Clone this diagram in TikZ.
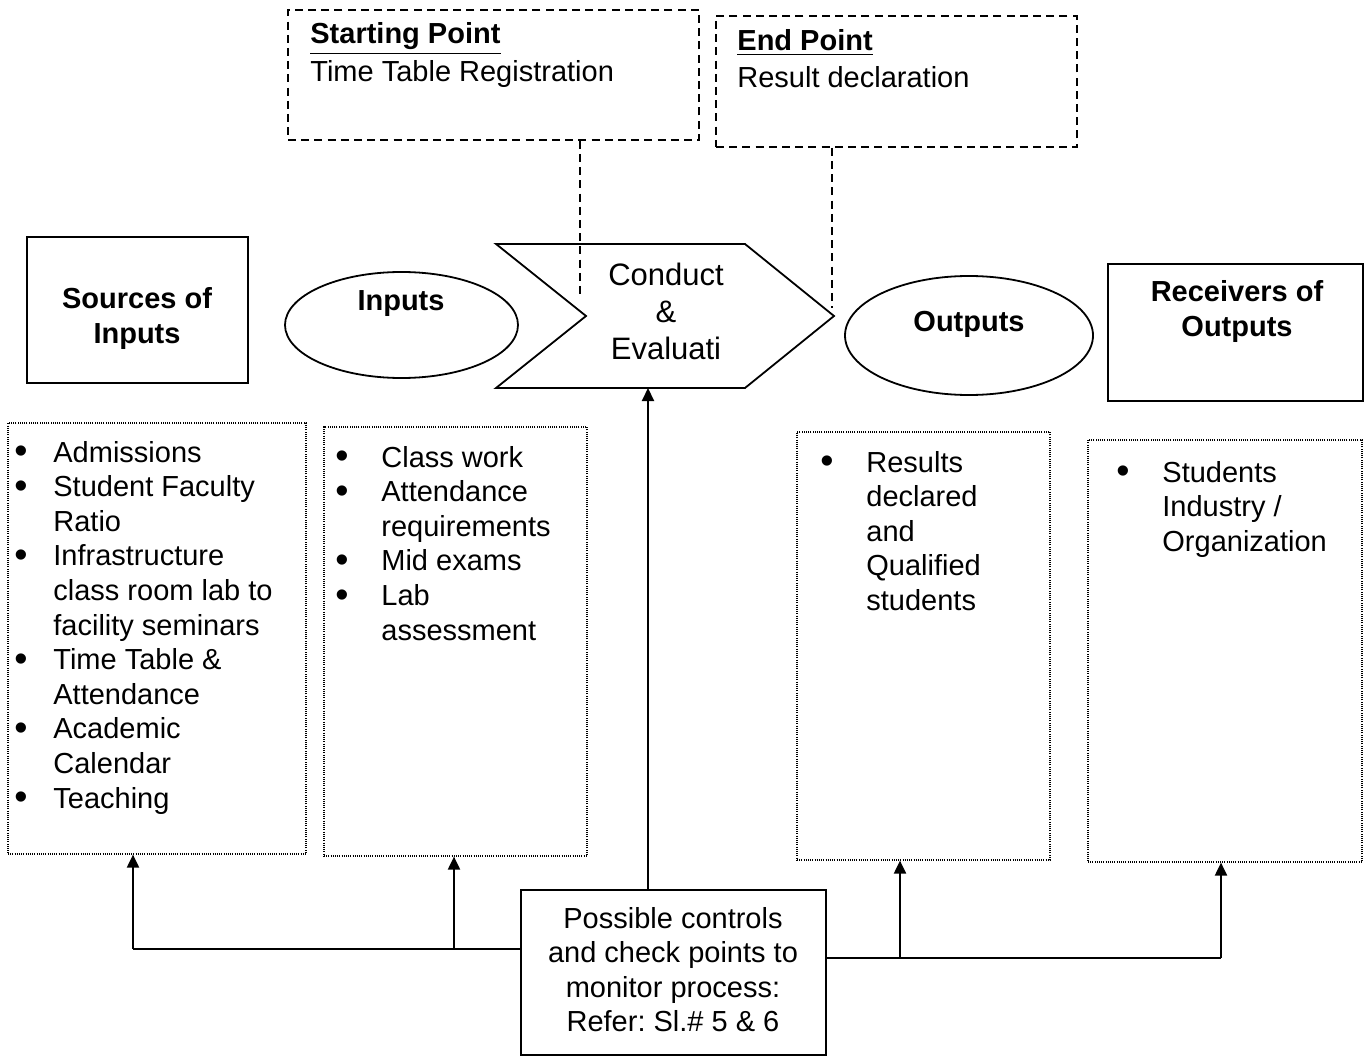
\documentclass[tikz,border=0pt]{standalone}
\usepackage{fontspec}
\setmainfont{Liberation Sans}
\usetikzlibrary{shapes.geometric,arrows.meta,fit}
\newcommand{\bodyfont}{\fontsize{14.5}{17.3}\selectfont}
\newcommand{\bul}{\smash{\raisebox{-0.06em}{\scalebox{1.3}{\textbullet}}}}
\frenchspacing
\begin{document}
\begin{tikzpicture}[x=0.5pt,y=-0.5pt,
  boxsolid/.style={draw, line width=0.9pt, inner sep=0pt},
  boxdash/.style={draw, line width=0.8pt, dash pattern=on 4pt off 2.6pt, inner sep=0pt},
  boxdot/.style={draw, line width=0.6pt, dash pattern=on 0.5pt off 0.6pt, inner sep=0pt},
  dline/.style={line width=0.8pt, dash pattern=on 4pt off 2.6pt},
  arr/.style={line width=1pt, -{Triangle[length=6.5pt,width=6pt]}},
  cline/.style={line width=1pt},
  txt/.style={inner sep=0pt, font=\bodyfont},
  head/.style={inner sep=0pt, font=\bodyfont\bfseries}]
\useasboundingbox (0,0) rectangle (1366,1059);

% top dashed boxes
\node[boxdash, fit={(288,10)(699,140)}] (sp) {};
\node[txt, anchor=base west] (spt) at (310,44) {\underline{\textbf{Starting Point}}};
\node[txt, anchor=base west] (spd) at (310,82) {Time Table Registration};
\node[boxdash, fit={(716,16)(1077,147)}] (ep) {};
\node[txt, anchor=base west] (ept) at (737,51) {\underline{\textbf{End Point}}};
\node[txt, anchor=base west] (epd) at (737,88) {Result declaration};

% process row
\node[boxsolid, fit={(27,237)(248,383)}] (src) {};
\node[head, anchor=base] (srct) at (137,309) {\begin{tabular}[t]{@{}c@{}}Sources of\\Inputs\end{tabular}};
\node[boxsolid, ellipse, minimum width=116.5pt, minimum height=53pt] (inp) at (401.5,325) {};
\node[head, anchor=base] (inpt) at (401,311) {Inputs};
\draw[line width=0.9pt] (496,244) -- (745,244) -- (834,316) -- (745,388) -- (496,388) -- (586,316) -- cycle;
\node[txt, font=\fontsize{15.5}{18.3}\selectfont, anchor=base] (cond) at (666,286) {\begin{tabular}[t]{@{}c@{}}Conduct\\\&\\Evaluati\end{tabular}};
\coordinate (chevbot) at (648,388);
\node[boxsolid, ellipse, minimum width=124pt, minimum height=59.5pt] (outp) at (969,335.5) {};
\node[head, anchor=base] (outpt) at (969,332) {Outputs};
\node[boxsolid, fit={(1108,264)(1363,401)}] (rcv) {};
\node[head, anchor=base] (rcvt) at (1237,302) {\begin{tabular}[t]{@{}c@{}}Receivers of\\Outputs\end{tabular}};

% dashed links
\coordinate (d1) at (580,297);
\coordinate (d2) at (832,308);
\draw[dline] (d1 |- sp.south) -- (d1);
\draw[dline] (d2 |- ep.south) -- (d2);

% list boxes
\node[boxdot, fit={(8,423)(306,854)}] (b1) {};
\node[txt, anchor=base west] (l1) at (14,462) {\begin{tabular}[t]{@{}p{19.5pt}@{}l@{}}
\bul & Admissions\\
\bul & Student Faculty\\
 & Ratio\\
\bul & Infrastructure\\
 & class room lab to\\
 & facility seminars\\
\bul & Time Table \&\\
 & Attendance\\
\bul & Academic\\
 & Calendar\\
\bul & Teaching
\end{tabular}};
\node[boxdot, fit={(324,427)(587,856)}] (b2) {};
\node[txt, anchor=base west] (l2) at (335,467) {\begin{tabular}[t]{@{}p{23pt}@{}l@{}}
\bul & Class work\\
\bul & Attendance\\
 & requirements\\
\bul & Mid exams\\
\bul & Lab\\
 & assessment
\end{tabular}};
\node[boxdot, fit={(797,432)(1050,860)}] (b3) {};
\node[txt, anchor=base west] (l3) at (820,472) {\begin{tabular}[t]{@{}p{23pt}@{}l@{}}
\bul & Results\\
 & declared\\
 & and\\
 & Qualified\\
 & students
\end{tabular}};
\node[boxdot, fit={(1088,440)(1362,862)}] (b4) {};
\node[txt, anchor=base west] (l4) at (1116,482) {\begin{tabular}[t]{@{}p{23pt}@{}l@{}}
\bul & Students\\
 & Industry /\\
 & Organization
\end{tabular}};

% control box
\node[boxsolid, fit={(521,890)(826,1055)}] (ctrl) {};
\node[txt, anchor=base] (ctrlt) at (673,928) {\begin{tabular}[t]{@{}c@{}}Possible controls\\and check points to\\monitor process:\\Refer: Sl.\# 5 \& 6\end{tabular}};

% connectors
\draw[arr] (ctrl.north -| chevbot) -- (chevbot);
\coordinate (lj) at (133,949);
\coordinate (lm) at (454,949);
\draw[cline] (ctrl.west |- lj) -- (lj);
\draw[arr] (lj) -- (lj |- b1.south);
\draw[arr] (lm) -- (lm |- b2.south);
\coordinate (rj) at (1221,958);
\coordinate (rm) at (900,958);
\draw[cline] (ctrl.east |- rj) -- (rj);
\draw[arr] (rj) -- (rj |- b4.south);
\draw[arr] (rm) -- (rm |- b3.south);
\end{tikzpicture}
\end{document}
